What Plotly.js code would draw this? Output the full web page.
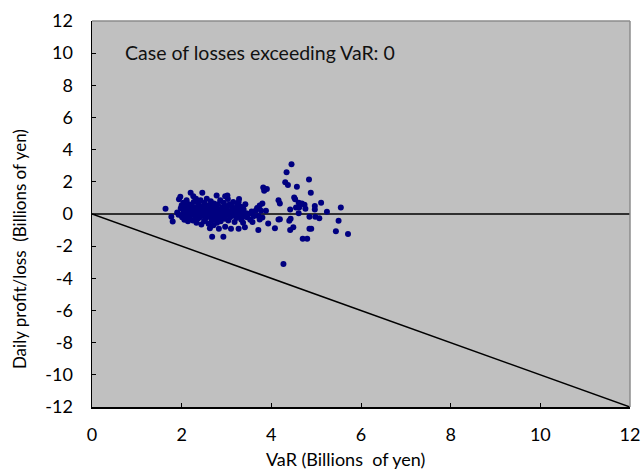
<!DOCTYPE html>
<html>
<head>
<meta charset="utf-8">
<script src="https://cdn.plot.ly/plotly-3.0.1.min.js"></script>
<style>html,body{margin:0;padding:0;background:#fff;}#chart{width:642px;height:469px;}</style>
</head>
<body>
<div id="chart"></div>
<script>
// VaR (billions of yen)
const varValues = [
1.64,1.77,1.80,1.90,1.93,1.94,1.97,1.98,2.00,2.01,2.03,2.04,2.06,2.07,2.08,2.10,2.11,2.12,2.14,2.15,
2.16,2.18,2.19,2.20,2.21,2.22,2.24,2.25,2.26,2.27,2.28,2.30,2.31,2.32,2.33,2.35,2.36,2.37,2.38,2.40,
2.41,2.42,2.43,2.44,2.46,2.47,2.48,2.49,2.50,2.51,2.52,2.53,2.55,2.56,2.57,2.58,2.60,2.61,2.62,2.63,
2.64,2.65,2.66,2.67,2.68,2.69,2.70,2.71,2.72,2.73,2.74,2.76,2.77,2.78,2.79,2.80,2.81,2.83,2.84,2.85,
2.86,2.87,2.88,2.90,2.91,2.93,2.94,2.95,2.96,2.97,2.97,2.98,3.00,3.01,3.03,3.02,3.04,3.05,3.07,3.08,
3.10,3.11,3.12,3.14,3.15,3.16,3.18,3.19,3.21,3.22,3.24,3.25,3.27,3.28,3.27,3.29,3.30,3.32,3.33,3.35,
3.37,3.38,3.40,3.41,3.42,3.44,3.46,3.50,3.53,3.56,3.58,3.61,3.65,3.68,3.71,3.71,3.74,3.74,3.77,3.80,
3.80,3.82,3.84,3.88,3.90,3.93,4.08,4.16,4.19,4.16,4.19,
4.45,4.34,4.31,4.37,4.57,4.84,4.88,4.51,4.53,4.61,4.68,4.74,5.11,4.55,4.62,4.76,4.97,4.97,5.55,4.42,
5.24,4.61,4.85,4.98,5.07,4.43,4.40,5.50,4.49,4.42,4.85,4.89,5.44,5.71,4.70,4.80,4.27
];
// Daily profit/loss (billions of yen)
const pnlValues = [
0.32,-0.17,-0.46,0.10,-0.05,0.91,1.07,0.35,0.55,-0.20,0.05,0.70,-0.35,0.20,0.45,-0.10,0.85,0.00,-0.45,0.30,
0.60,-0.25,0.15,1.32,-0.05,0.50,0.25,-0.40,1.11,0.75,0.05,-0.15,0.40,0.95,-0.55,0.20,-0.30,0.65,0.00,0.35,
-0.20,0.85,0.10,-0.65,1.32,0.50,-0.10,0.25,-0.45,0.70,0.05,-0.30,0.40,0.95,-0.05,0.15,-0.60,0.55,0.30,-0.88,
-0.20,0.80,0.00,-0.40,-1.42,0.45,0.20,-0.70,0.65,-0.10,0.10,-0.35,0.35,1.15,-0.55,0.05,0.60,-0.92,-0.20,0.25,
0.85,-0.45,0.00,0.40,-0.15,-1.42,0.70,0.15,-0.30,1.11,-0.79,0.50,-0.05,0.30,0.94,1.15,-0.40,0.10,0.60,-0.20,
-0.92,0.20,0.45,-0.10,0.75,0.00,-0.50,0.35,0.15,-0.25,0.55,0.05,0.74,0.94,-0.92,-0.10,0.25,0.45,-0.35,0.10,
-0.55,0.30,-0.15,-0.83,0.60,0.04,-0.20,0.00,-0.35,0.15,-0.50,-0.13,0.20,0.37,-0.13,-1.00,0.53,-0.34,0.20,0.66,
-0.21,1.65,1.44,0.20,1.55,-0.59,-0.88,0.86,0.66,-0.34,-0.32,
3.10,2.60,1.98,1.81,1.69,2.15,1.32,1.03,0.91,0.70,0.66,0.57,0.70,0.41,0.41,0.32,0.49,0.28,0.41,0.28,
0.14,0.04,-0.17,-0.17,-0.26,-0.30,-0.42,-0.42,-0.83,-1.00,-0.92,-0.92,-1.08,-1.25,-1.54,-1.54,-3.11
];
// Reference lines
const zeroLineX = [0, 12];
const zeroLineY = [0, 0];
const varLineX = [0, 12];
const varLineY = [0, -12];
const tickVals = [-12,-10,-8,-6,-4,-2,0,2,4,6,8,10,12];
const xTickVals = [0,2,4,6,8,10,12];

const traces = [
  {x: zeroLineX, y: zeroLineY, mode: 'lines', line: {color: '#000', width: 1.5}, hoverinfo: 'skip', showlegend: false},
  {x: varLineX, y: varLineY, mode: 'lines', line: {color: '#000', width: 1.5}, hoverinfo: 'skip', showlegend: false},
  {x: varValues, y: pnlValues, mode: 'markers', marker: {color: '#000080', size: 6}, showlegend: false}
];

const font = {family: 'Lato, "Open Sans", sans-serif', color: '#000'};
const layout = {
  width: 642, height: 469,
  margin: {l: 92, r: 12, t: 21, b: 62},
  paper_bgcolor: '#fff', plot_bgcolor: '#C0C0C0',
  font: font,
  showlegend: false,
  xaxis: {
    range: [0, 12], tickvals: xTickVals, ticktext: xTickVals.map(String),
    showgrid: false, zeroline: false, showline: true, linecolor: '#000', linewidth: 1.5,
    ticks: 'inside', ticklen: 4, tickcolor: '#000', tickwidth: 1,
    tickfont: {family: font.family, size: 18, color: '#000'}, ticklabelstandoff: 11
  },
  yaxis: {
    range: [-12, 12], tickvals: tickVals, ticktext: tickVals.map(String),
    showgrid: false, zeroline: false, showline: true, linecolor: '#000', linewidth: 1.5,
    ticks: 'inside', ticklen: 4, tickcolor: '#000', tickwidth: 1,
    tickfont: {family: font.family, size: 18, color: '#000'}, ticklabelstandoff: 14
  },
  shapes: [
    {type: 'line', xref: 'paper', yref: 'paper', x0: 0, x1: 1, y0: 1, y1: 1, line: {color: '#8c8c8c', width: 1.5}},
    {type: 'line', xref: 'paper', yref: 'paper', x0: 1, x1: 1, y0: 0, y1: 1, line: {color: '#8c8c8c', width: 1.5}}
  ],
  annotations: [
    {text: 'Case of losses exceeding VaR: 0', xref: 'x', yref: 'y', x: 0.70, y: 10.06,
     xanchor: 'left', yanchor: 'middle', showarrow: false, font: {family: font.family, size: 19.5, color: '#111'}},
    {text: 'VaR (Billions  of yen)', xref: 'paper', yref: 'paper', x: 0.471, y: -0.135,
     xanchor: 'center', yanchor: 'middle', showarrow: false, font: {family: font.family, size: 18, color: '#000'}},
    {text: 'Daily profit/loss  (Billions of yen)', xref: 'paper', yref: 'paper', x: -0.135, y: 0.41,
     xanchor: 'center', yanchor: 'middle', textangle: -90, showarrow: false, font: {family: font.family, size: 17, color: '#000'}}
  ]
};

Plotly.newPlot('chart', traces, layout, {displayModeBar: false, staticPlot: true});
</script>
</body>
</html>
